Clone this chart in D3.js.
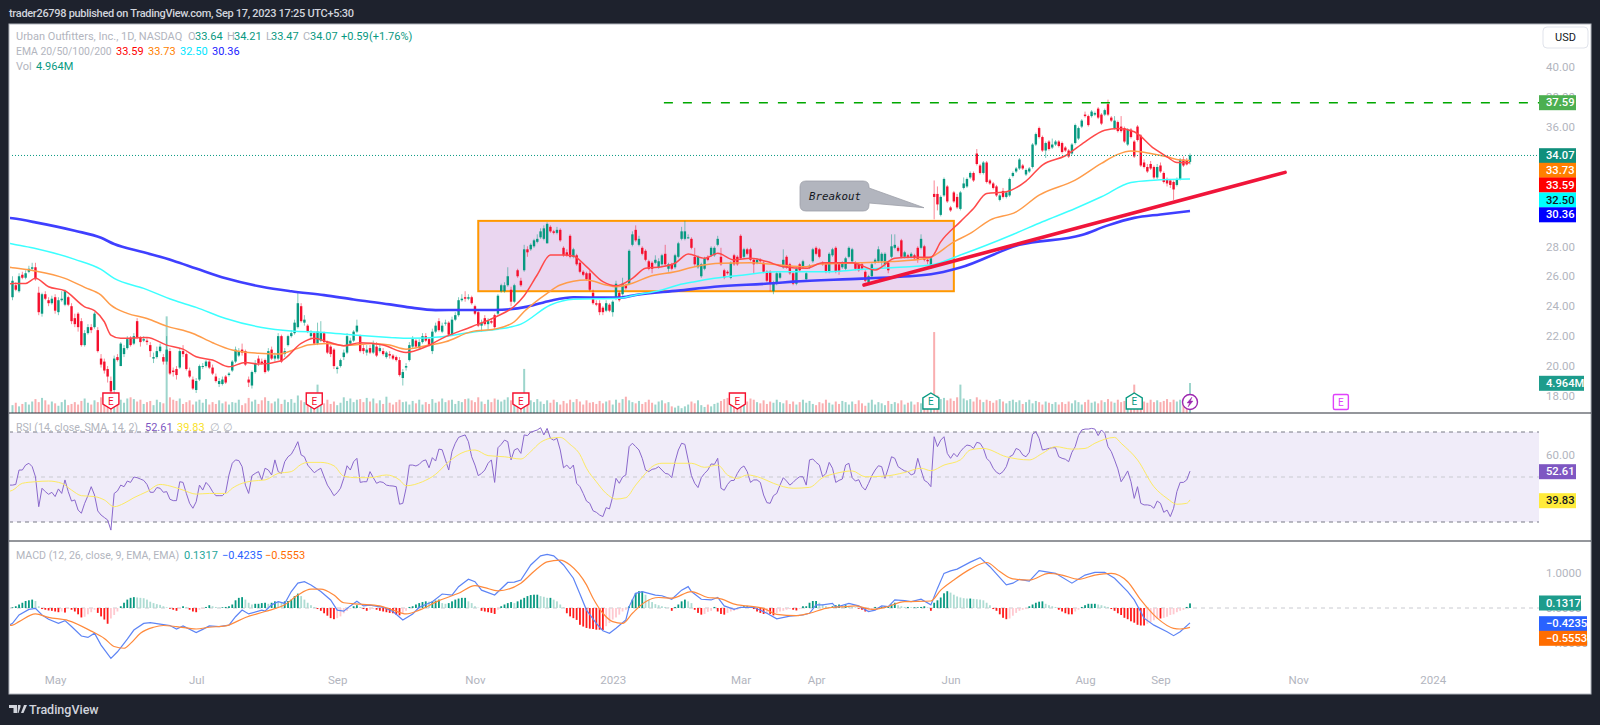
<!DOCTYPE html>
<html>
<head>
<meta charset="utf-8">
<script src="https://cdn.jsdelivr.net/npm/d3@7"></script>
<style>
  html, body { margin: 0; padding: 0; background: #1e222d; }
  svg { display: block; }
  text { font-family: Roboto, sans-serif; }
</style>
</head>
<body>
<div id="chart"></div>
<script>
// candles, one row = 10 daily bars
const opens = [
24.6,25.4,25.0,26.1,25.9,26.3,26.5,26.6,24.9,23.5,
24.8,24.4,24.2,24.6,23.6,24.4,24.1,24.6,24.0,23.2,
23.5,23.0,21.4,22.2,22.6,22.6,22.4,20.5,20.3,19.8,
19.0,18.4,20.6,20.0,20.8,21.2,21.9,21.5,23.0,21.9,
21.7,21.7,21.4,20.5,20.6,21.0,20.6,20.3,21.0,19.7,
19.8,19.9,21.0,20.8,19.7,19.1,18.4,19.1,20.0,20.0,
20.3,19.9,19.3,18.8,18.8,19.3,19.4,19.7,20.3,20.7,
21.1,21.0,19.1,18.7,19.6,20.5,20.3,20.4,19.7,21.1,
20.5,20.5,22.0,20.8,21.4,22.0,22.2,22.6,24.0,22.9,
22.7,22.0,22.2,21.5,21.7,22.2,21.6,21.3,21.1,19.8,
20.0,20.6,20.9,21.5,21.7,22.3,22.0,21.2,20.9,21.2,
20.9,21.3,21.0,21.0,20.6,20.8,20.7,20.6,20.4,19.2,
19.9,20.4,21.3,21.7,21.2,21.6,22.0,21.8,21.0,22.3,
23.0,22.3,22.9,22.9,22.1,23.1,23.4,24.4,24.6,24.5,
24.6,24.0,23.6,22.7,23.2,22.8,23.0,23.4,23.5,25.0,
25.0,25.4,25.1,24.3,26.4,25.7,26.4,27.8,27.8,28.0,
28.3,28.6,28.5,28.2,29.3,29.0,28.9,29.1,27.9,27.6,
28.7,27.3,27.4,26.9,26.3,26.2,26.2,24.9,24.2,24.2,
23.9,23.7,24.1,23.6,24.5,24.9,24.8,25.4,25.5,28.1,
29.1,28.1,27.9,27.7,27.0,26.9,26.9,26.6,26.8,27.5,
26.5,26.8,26.6,27.3,28.5,28.5,28.6,28.5,27.3,26.6,
26.0,26.5,27.3,27.4,27.4,28.1,27.3,26.4,26.3,25.9,
27.4,27.3,28.7,27.3,27.8,27.8,27.1,26.9,27.1,26.9,
26.3,26.3,25.0,25.5,25.9,26.6,27.3,26.8,26.2,25.5,
26.8,26.6,25.8,26.6,27.0,27.9,27.8,26.9,26.8,26.3,
27.4,27.9,26.8,26.6,26.5,27.3,27.0,26.9,26.8,26.8,
26.3,25.6,26.0,26.9,27.0,27.0,26.8,26.9,27.3,27.9,
27.9,28.4,27.3,27.4,27.3,27.4,27.9,27.9,28.0,27.1,
26.6,31.5,31.5,30.1,31.4,32.0,30.6,31.6,31.3,30.5,
31.9,32.0,32.6,32.9,34.2,33.4,32.9,33.6,32.4,32.2,
32.0,31.1,31.7,31.3,31.4,32.7,33.0,33.2,33.4,32.8,
33.0,33.3,34.8,35.9,35.3,34.4,35.0,34.6,34.8,35.0,
34.9,34.6,34.4,34.2,34.9,35.2,36.0,36.8,36.7,36.7,
36.8,37.2,36.8,36.8,37.5,36.6,35.9,36.3,36.0,35.9,
34.8,35.8,35.0,36.0,35.4,33.6,33.3,33.5,33.3,32.6,
33.4,32.9,32.5,32.4,32.3,32.1,32.5,33.8,33.7,33.64]

const closes = [
25.7,25.1,26.0,25.9,26.2,26.5,26.6,25.8,23.6,24.8,
24.5,24.2,24.5,23.7,24.4,24.5,25.0,24.1,23.0,22.8,
22.6,21.4,22.2,22.6,22.4,23.5,21.0,20.1,19.7,19.3,
18.3,20.5,20.4,21.5,21.2,21.8,21.4,22.0,21.9,21.6,
21.8,21.6,21.0,20.6,21.0,21.3,20.3,21.1,19.5,19.6,
19.4,21.0,20.8,19.8,19.3,18.5,19.0,20.0,20.0,20.3,
19.9,19.5,19.0,19.0,19.1,18.9,19.5,20.3,21.1,21.0,
20.9,20.1,18.9,19.6,20.2,20.2,20.2,19.6,21.0,20.5,
20.7,22.0,20.3,21.0,22.0,22.2,22.9,24.2,23.0,23.1,
22.3,22.2,21.5,22.3,22.2,21.6,20.9,20.8,20.0,19.9,
20.4,20.9,22.0,21.7,22.3,22.7,21.0,21.0,21.1,20.9,
21.5,20.7,21.2,20.8,20.9,20.7,20.5,20.4,19.4,19.6,
20.0,21.4,21.8,21.3,21.6,22.0,21.7,21.4,22.3,22.7,
22.4,22.7,22.9,22.1,23.1,23.4,24.4,24.5,24.5,24.6,
24.2,23.5,22.7,22.9,22.8,23.0,22.9,22.6,24.7,25.4,
25.4,26.0,24.3,25.4,26.0,25.4,27.8,27.6,28.1,28.4,
28.5,29.0,29.2,29.5,29.0,28.9,29.1,28.4,27.4,27.4,
27.3,27.8,26.8,26.3,26.1,25.8,25.1,24.2,24.1,23.6,
23.6,24.2,23.7,24.3,25.5,24.4,25.5,25.2,27.7,28.8,
28.4,28.5,27.5,27.1,26.5,26.5,27.1,27.0,27.4,26.8,
26.8,26.5,27.4,28.2,29.0,29.0,28.6,27.9,26.8,27.3,
26.8,27.2,27.1,27.9,27.9,28.5,26.8,25.9,26.2,26.9,
26.8,26.8,27.2,27.8,27.5,27.1,26.8,27.1,27.0,26.3,
25.7,25.5,25.6,26.2,26.2,27.1,26.6,26.2,25.5,26.5,
26.4,27.0,26.2,26.7,27.8,27.5,27.3,26.8,26.3,27.5,
27.8,26.3,26.3,26.9,27.2,27.9,27.8,26.5,26.4,26.5,
25.7,26.0,26.8,27.1,27.8,27.5,27.5,26.4,28.0,28.1,
27.7,27.3,27.6,27.3,27.5,27.2,27.1,28.5,27.1,27.0,
27.2,31.3,30.8,31.3,32.5,31.0,30.4,31.0,30.6,31.6,
32.2,32.5,32.9,32.4,33.5,32.9,33.6,32.3,32.2,31.9,
31.4,31.4,31.3,31.6,32.5,32.9,33.2,33.8,33.2,33.1,
33.2,34.8,35.5,35.3,34.4,34.9,34.5,34.8,35.0,34.7,
34.3,34.4,34.0,34.8,36.1,35.9,36.4,36.7,36.1,37.0,
36.9,36.6,36.2,37.1,36.8,36.4,36.4,35.7,35.7,35.0,
35.8,35.3,34.0,35.1,33.4,33.3,33.0,33.2,32.6,33.3,
33.0,32.3,32.2,32.1,31.8,32.5,33.8,33.4,33.47,34.07]

const highs = [
26.0,25.6,26.2,26.3,26.4,26.7,26.9,26.9,25.3,24.9,
25.0,24.6,24.7,24.8,24.6,25.0,25.1,24.7,24.2,23.5,
23.6,23.2,22.4,22.8,22.8,23.6,22.6,20.8,20.5,20.0,
19.3,20.7,20.8,21.6,21.4,22.0,22.0,22.2,23.2,22.0,
22.0,21.9,21.6,20.9,21.3,21.5,20.8,22.0,21.2,19.9,
20.0,21.2,21.4,20.9,19.9,19.3,19.2,20.1,20.2,20.4,
20.4,20.1,19.5,19.2,19.3,19.4,19.6,20.4,21.3,21.2,
21.5,21.1,19.3,19.7,20.4,20.7,20.5,20.5,21.2,21.3,
20.9,22.2,22.1,21.2,22.1,22.4,23.1,24.9,24.2,23.4,
22.8,22.4,22.3,22.9,23.0,22.3,21.7,21.4,21.2,20.0,
20.5,21.1,22.2,21.9,22.4,23.1,22.1,21.4,21.4,21.4,
21.7,21.6,21.4,21.2,21.0,21.0,20.8,20.7,20.6,19.8,
20.2,21.6,22.0,21.8,21.8,22.2,22.2,21.9,22.5,22.9,
23.2,22.9,23.1,23.0,23.3,23.6,24.6,24.8,25.0,24.8,
24.7,24.1,23.7,23.1,23.4,23.2,23.2,23.5,24.8,25.5,
25.6,26.6,25.3,25.5,26.5,25.9,28.1,28.0,28.2,28.5,
28.8,29.2,29.4,29.6,29.4,29.1,29.3,29.2,28.0,27.8,
28.8,27.9,27.5,27.0,26.4,26.3,26.4,25.1,24.4,24.4,
24.0,24.4,24.2,24.4,25.7,25.0,25.9,25.5,27.8,29.0,
29.4,28.7,28.0,27.8,27.1,27.0,27.4,27.2,27.5,28.1,
26.9,26.9,27.5,28.3,29.3,29.7,28.8,28.6,27.9,27.4,
26.9,27.3,27.4,28.0,28.0,28.7,27.9,26.5,26.4,27.0,
27.5,27.4,28.8,27.9,27.9,27.9,27.2,27.2,27.2,27.0,
26.4,26.4,25.7,26.3,26.3,27.8,27.4,26.9,26.3,26.6,
26.9,27.1,26.3,26.8,27.9,28.0,27.9,27.0,26.9,27.6,
27.9,28.0,26.9,27.0,27.3,28.0,27.9,27.0,26.9,26.9,
26.4,26.1,26.9,27.2,28.0,27.6,27.6,27.0,28.8,28.8,
28.0,28.5,27.7,27.5,27.6,27.5,28.0,28.8,28.1,27.2,
27.3,32.4,32.0,31.4,32.6,32.1,30.7,31.7,31.5,31.7,
32.6,32.6,33.0,33.0,34.5,33.5,33.7,33.7,32.5,32.3,
32.1,31.5,31.9,31.7,32.6,33.0,33.3,33.9,33.5,33.2,
33.3,34.9,35.6,36.0,35.4,35.0,35.1,35.2,35.1,35.1,
35.0,34.7,34.5,34.9,36.2,36.0,36.5,37.0,36.8,37.1,
37.0,37.3,36.9,37.2,37.8,36.7,36.7,36.4,36.7,36.0,
35.9,35.9,35.1,36.1,35.5,33.8,33.5,33.7,33.4,33.5,
33.6,33.0,32.6,32.5,32.4,32.6,33.9,34.0,33.9,34.21]

const lows = [
24.4,25.0,24.9,25.8,25.8,26.2,26.4,25.7,23.4,23.3,
24.4,24.0,24.1,23.5,23.4,24.3,24.0,24.0,22.8,22.6,
22.3,21.3,21.3,22.1,22.2,22.5,20.9,19.9,19.5,18.9,
18.2,18.2,20.3,20.0,20.6,21.1,21.3,21.4,21.8,21.3,
21.6,21.4,20.6,20.2,20.5,20.9,20.1,20.1,19.4,19.3,
19.1,19.8,20.6,19.7,19.2,18.4,18.2,19.0,19.8,19.9,
19.8,19.4,18.9,18.6,18.7,18.8,19.3,19.6,20.2,20.6,
20.7,20.0,18.6,18.5,19.5,20.0,20.1,19.5,19.6,20.4,
20.3,20.4,20.2,20.6,21.3,21.9,22.1,22.5,22.9,22.7,
22.2,21.8,21.4,21.4,21.6,21.5,20.8,20.6,19.8,19.5,
19.9,20.4,20.8,21.4,21.6,22.2,20.9,20.8,20.7,20.8,
20.8,20.6,20.9,20.7,20.5,20.5,20.4,20.3,19.3,18.7,
19.7,20.3,21.2,21.2,21.1,21.5,21.6,21.3,20.8,22.2,
22.3,22.2,22.7,22.0,22.0,23.0,23.3,24.3,24.3,24.4,
24.1,23.4,22.6,22.3,22.7,22.4,22.8,22.5,23.4,24.9,
24.9,25.3,24.0,24.2,25.9,25.3,26.3,27.3,27.7,27.9,
28.2,28.5,28.4,28.2,28.9,28.8,28.8,28.3,27.3,27.3,
27.2,27.2,26.7,26.2,26.0,25.7,25.0,24.1,24.0,23.4,
23.4,23.6,23.6,23.3,24.4,24.3,24.7,25.1,25.4,28.0,
28.3,28.0,27.4,27.0,26.4,26.2,26.8,26.5,26.7,26.7,
26.3,26.4,26.5,27.2,28.4,28.4,28.5,27.8,26.7,26.5,
25.9,26.4,27.0,27.3,27.3,28.0,26.7,25.8,26.1,25.8,
26.7,26.7,27.1,27.2,27.4,27.0,26.2,26.8,26.9,26.2,
25.6,25.0,24.8,25.4,25.8,26.5,26.5,26.1,25.4,25.4,
26.3,26.5,25.7,26.5,26.9,27.4,27.2,26.7,26.2,26.2,
27.3,26.2,26.1,26.5,26.4,27.2,26.9,26.4,26.3,26.4,
25.6,25.5,25.9,26.8,26.9,26.7,26.6,26.2,27.2,27.8,
27.6,27.2,27.2,27.2,27.2,27.1,26.9,27.8,27.0,26.8,
26.5,29.8,30.4,30.0,31.3,30.9,30.3,30.9,30.5,30.4,
31.8,31.9,32.5,32.3,33.4,32.8,32.8,32.2,32.1,31.8,
31.3,31.0,31.2,31.2,31.3,32.6,32.9,33.1,33.1,32.7,
32.9,33.2,34.7,35.2,34.3,33.9,34.4,34.5,34.7,34.6,
34.2,34.3,33.9,34.1,34.8,35.1,35.9,36.6,36.0,36.6,
36.7,36.5,36.1,36.7,36.7,36.3,35.8,35.6,35.6,34.9,
34.7,35.2,33.9,35.0,33.3,33.2,32.9,33.1,32.5,32.5,
32.9,32.2,32.0,31.9,31.1,32.0,32.4,33.3,33.4,33.47]

// volume in millions
const volumes = [
1.3,1.7,1.1,1.5,1.8,1.4,1.9,2.3,1.8,2.5,
2.1,1.4,1.9,1.6,1.2,1.8,2.2,1.3,1.5,1.8,
1.4,2.0,2.4,1.7,1.4,2.1,1.8,2.6,1.9,2.7,
2.1,2.7,2.8,2.2,1.7,2.4,2.6,2.3,1.9,2.2,
1.5,1.8,2.0,1.3,2.2,1.8,1.6,16.0,2.6,2.2,
2.0,2.4,1.5,1.8,2.1,1.4,1.9,2.2,1.7,2.3,
1.4,1.8,1.5,2.1,1.6,1.9,1.4,1.8,1.7,2.2,
1.3,1.6,2.5,1.9,2.2,1.5,2.1,2.6,2.0,1.6,
1.9,2.4,1.5,2.2,1.8,2.3,1.7,2.9,2.1,1.8,
2.2,1.4,1.8,4.7,2.0,1.6,2.2,1.5,1.9,1.3,
1.7,2.6,2.0,2.4,1.8,2.2,2.3,1.8,2.5,1.9,
2.4,1.6,2.1,1.5,2.7,1.7,1.4,1.8,2.2,1.8,
1.9,1.4,2.0,1.6,2.2,1.4,1.8,1.5,2.3,1.7,
1.9,2.4,1.8,2.1,2.2,1.5,2.0,1.8,2.3,2.4,
2.1,1.8,2.6,1.9,1.5,2.2,1.8,2.4,2.2,1.9,
2.2,2.6,2.1,2.4,1.9,2.2,7.3,2.6,2.1,1.8,
2.3,1.9,1.5,2.1,1.7,2.2,1.8,1.4,2.0,1.6,
2.2,1.8,2.3,1.9,1.4,2.1,1.7,1.8,1.5,2.0,
1.6,1.9,2.1,1.4,2.2,1.7,2.3,2.7,2.1,1.8,
1.6,2.0,1.5,1.8,2.2,1.7,1.4,1.9,2.1,1.6,
1.8,1.1,0.9,1.2,0.8,1.1,1.4,1.9,1.6,2.1,
1.3,1.0,1.4,1.1,1.5,1.7,2.0,2.3,2.5,2.1,
1.8,1.5,2.1,1.7,1.9,2.4,2.2,1.8,1.6,2.1,
1.5,1.9,1.7,2.2,1.8,1.6,2.1,1.5,1.9,1.4,
1.8,2.2,1.7,2.0,1.5,1.3,1.8,1.6,2.2,1.7,
1.4,1.9,1.5,2.0,1.8,1.4,1.9,1.5,2.1,1.6,
1.2,1.7,2.2,1.4,1.8,1.6,1.3,2.0,1.5,1.8,
1.6,2.1,1.4,1.7,1.9,1.4,1.8,1.6,2.1,2.6,
2.2,13.4,2.9,2.3,2.5,2.1,2.4,2.0,2.6,4.7,
2.4,2.1,2.3,1.9,2.6,2.2,1.8,2.2,2.0,1.7,
2.1,2.3,1.9,1.6,2.0,2.2,1.8,2.1,1.5,1.8,
2.2,1.6,2.0,1.8,1.4,1.9,1.7,1.5,1.8,1.4,
1.8,1.5,1.9,1.6,2.1,1.8,1.4,1.8,2.2,1.7,
1.9,1.6,2.1,1.8,2.3,1.9,1.7,2.2,1.8,2.0,
1.6,2.2,4.7,2.1,2.4,1.9,1.7,2.2,1.8,2.1,
1.8,2.0,2.3,1.8,2.2,1.9,2.2,2.0,1.8,4.964]

const rsiValues = [
46.4,46.7,53.1,53.1,55.3,56.1,54.6,50.1,36.8,45,
43.5,42.3,43.2,41.3,44.7,42.7,48.7,43.5,39.3,39.8,
35.3,33.9,38.3,41.7,45.7,42,34.9,33.1,32,30.9,
26.4,42.7,43.8,46.4,45.7,48.2,47.6,50,49.7,49.1,
48.5,46.7,43.2,43.2,45.3,45,43.2,43.5,40.1,39.5,
39.5,47.9,47.6,42.7,38.3,36.1,39,46.4,44.2,47.6,
46,43.5,41.7,41.7,41.7,43.2,50.9,56.1,57.6,57.3,
54.6,46.4,42.7,50.6,51.6,52.4,48.7,53.9,53.1,50.9,
57.6,52.4,51.6,56.8,59,60.1,62.7,65.7,59.8,59,
55.3,53.6,51.9,53,53.9,50.1,46.4,44.2,41.7,43,
45,49.4,55,53.1,56.8,58.3,47.6,47.9,47.9,52.4,
49.7,47.2,47.9,47.6,46.4,46.1,46,45.7,37.9,38.3,
45,55.3,55.3,54.9,55.6,57.1,57.6,54.1,58.6,57.1,
62.4,62.1,57.6,53.1,61.3,65,67.6,68.2,68.7,65.7,
59,55.3,50.6,51.6,53.1,56.1,57.6,47.6,63,64.5,
66.4,65.7,57.6,62,62.7,60.5,68.7,68.4,69.9,70.4,
70.9,71.9,68.7,71.6,67.2,66.4,67.2,62,54.1,55.3,
53.6,55.3,47.2,45.7,42.7,39.3,38.3,35,34.3,33.1,
32.4,36.4,35.8,41.3,49.4,47.2,50,50.9,63.5,65,
63.5,62,58.3,53.1,52.4,53.4,53.7,54.6,53.1,51.6,
51.3,49.7,56.8,62,65,64.5,57.6,50.6,47.2,45.3,
49.7,51.6,53.1,55.8,55.6,58.3,45,44.1,46.7,48.4,
48.5,51.6,53.9,54.9,52.4,47.6,48.7,48.7,47.6,42,
38.6,38.3,41.7,42.7,46.4,49.7,48.2,46.4,47.6,49.1,
50.1,50.1,46.4,57.6,58,56.5,55.3,50.1,51.6,56.5,
53.9,47.6,48.5,49.1,55.3,56.1,49.7,48.2,48.8,45.7,
44.2,47.2,50.6,53.1,55,54.6,49.4,53.9,59,58.3,
54.6,53.6,52.7,52.4,50.9,51.6,58.3,53.1,48.5,47.6,
45.7,67.9,63.5,66.4,67.9,60.5,58.3,60.5,59,61.3,
63,64.2,63.9,62.7,65.4,65,62.7,58.3,56.8,53.9,
52.1,51.3,52.4,54.6,59,59.8,62.7,62,59.8,59,
61,69,70.1,67.2,62,62.3,62.7,63,63,59,
58.3,57.9,56.8,61,63.5,68.4,70.9,71.3,71.3,71.6,
71.3,68.4,70.9,69.4,63.5,61.3,57.6,53.6,47.9,50.1,
52.7,47.9,40.5,45.7,38.3,37.6,37.6,37.3,36.1,39.3,
38.3,34.3,35.3,32.4,36.1,43.5,47.6,47.6,48.7,52.61]

const rsiMaBars = [-1,0,3,7,11,15,18,21,25,28,31,34,37,41,45,48,52,56,60,65,67,70,73,77,81,85,88,90,94,98,101,105,109,114,118,120,125,129,133,138,141,145,150,155,158,161,164,167,170,173,175,178,181,184,187,190,193,195,198,201,207,211,215,218,221,224,228,232,238,243,247,251,256,260,266,272,277,280,284,289,292,296,303,310,314,318,323,327,330,336,338,343,348,352,355,358,359]
const rsiMaValues = [43.6,44.1,47.2,47.9,48.2,47.2,44.2,41.7,41.3,39.8,36.8,38.3,40.8,43.5,46.7,46,44.2,42.4,42.7,42.7,45,47.2,48.2,48.7,51.6,52.4,55.6,56.5,56.5,55,50.4,49.7,49.7,50.9,48.7,46.1,47.9,51.2,56.8,61.3,62,59.5,59,58,61.3,65.4,67.2,67.6,64.5,60,53.9,47.9,42.7,40.2,40.8,46.4,51.6,54.6,56.1,56.1,56.1,54.3,55.3,50.9,49.4,50.9,49.7,47.2,45,45.4,49.7,51.6,52.7,50.1,50.4,52,53.9,52.8,55.3,57.6,62,62.7,59,57.6,60.5,63.5,62.4,62.7,65,67.6,65,57.6,45.7,40.5,37.9,38.3,39.83]

const ema20Bars = [-1,0,4,7,11,16,22,25,28,30,33,41,47,52,56,61,66,71,75,82,88,92,96,101,106,113,120,126,131,140,147,153,156,160,164,168,171,175,180,184,189,193,198,202,206,211,215,220,225,230,235,242,247,256,263,269,274,280,283,289,293,297,303,309,314,321,327,333,337,342,348,352,355,359]
const ema20Values = [25.5,25.52,25.52,25.86,25.3,25.03,23.96,23.7,22.96,22.07,21.85,21.91,21.4,21.13,20.62,20.4,19.95,20.24,20.13,20.36,21.51,21.85,21.62,21.36,21.56,21.4,20.91,21.29,21.85,22.63,23.25,24.0,24.7,26.1,27.42,27.42,27.35,26.64,25.64,25.37,25.86,26.53,26.64,26.87,27.49,27.2,27.53,27.09,27.2,26.98,26.64,26.53,26.9,26.9,26.42,27.2,27.27,27.27,28.3,29.65,30.53,31.53,31.64,32.36,33.43,34.05,34.98,35.76,35.87,35.65,34.54,33.98,33.6,33.59]

const ema50Bars = [-1,0,7,16,22,27,30,35,41,47,55,61,67,75,81,87,90,96,101,110,115,120,126,132,140,147,153,156,163,167,175,181,184,189,194,202,208,216,225,234,242,246,258,268,279,287,292,298,306,313,324,332,337,341,347,352,356,359]
const ema50Values = [26.6,26.57,26.35,25.86,25.26,24.74,24.07,23.52,23.18,22.67,22.18,21.56,21.07,20.85,20.8,21.18,21.4,21.51,21.36,21.51,21.4,21.13,21.36,21.62,22.3,22.47,22.96,23.64,24.86,25.42,25.75,25.42,25.3,25.53,25.97,26.3,26.64,26.87,26.9,26.75,26.64,26.82,26.9,26.98,27.2,28.3,28.86,29.75,30.3,31.42,32.42,33.54,34.14,34.36,34.2,33.98,33.76,33.73]

const ema100Bars = [-1,0,7,19,27,31,40,49,56,65,76,85,95,104,115,121,131,141,148,155,164,171,185,190,198,203,208,214,223,233,248,259,269,280,289,305,314,324,332,341,348,359]
const ema100Values = [28.2,28.15,27.86,27.13,26.46,25.86,25.19,24.41,23.92,23.18,22.58,22.34,22.25,22.07,21.91,21.85,21.96,22.3,22.46,22.8,24.08,24.46,24.53,24.75,25.08,25.42,25.64,25.86,26.09,26.3,26.3,26.46,26.58,26.75,27.42,28.79,29.64,30.53,31.31,32.27,32.42,32.5]

const ema200Bars = [-1,0,7,19,27,31,40,49,56,65,76,85,95,104,115,121,129,137,147,157,164,171,185,190,203,214,232,238,259,280,289,307,326,334,342,350,359]
const ema200Values = [29.9,29.87,29.6,29.04,28.57,28.15,27.6,27.04,26.52,25.86,25.3,25.0,24.74,24.45,24.12,23.92,23.74,23.75,23.75,23.97,24.37,24.6,24.57,24.75,25.04,25.3,25.53,25.64,25.84,26.13,26.58,28.1,28.75,29.4,29.9,30.13,30.36]

const macdBars = [-1,0,2,5,7,9,11,14,16,18,21,23,25,27,30,32,35,37,40,42,45,48,50,52,56,58,60,63,66,68,70,72,76,77,79,81,83,85,87,89,91,94,97,99,101,103,105,107,109,113,116,119,122,124,128,131,134,136,139,141,143,147,151,153,155,158,161,163,165,168,171,173,175,178,180,182,184,187,188,190,192,196,198,201,204,206,207,210,213,215,217,220,222,226,230,233,237,241,243,245,247,250,251,255,258,261,263,265,267,269,272,274,277,280,282,284,286,288,292,295,298,303,305,307,310,313,318,323,327,330,333,336,340,342,345,348,352,354,356,359]
const macdValues = [-0.49,-0.44,-0.2,-0.04,-0.01,-0.2,-0.32,-0.44,-0.36,-0.53,-0.8,-0.84,-0.72,-1.06,-1.44,-1.25,-0.89,-0.63,-0.44,-0.42,-0.46,-0.5,-0.6,-0.51,-0.7,-0.61,-0.51,-0.53,-0.49,-0.25,-0.06,-0.17,-0.06,-0.09,0.09,0.18,0.13,0.47,0.71,0.75,0.66,0.47,0.23,-0.06,-0.09,0.06,0.19,0.06,0.08,0.02,-0.1,-0.34,-0.17,0.02,0.18,0.4,0.37,0.61,0.82,0.75,0.51,0.37,0.73,0.74,0.8,1.23,1.49,1.53,1.49,1.23,0.85,0.4,-0.06,-0.44,-0.65,-0.72,-0.58,-0.34,0.04,0.42,0.47,0.37,0.35,0.25,0.51,0.61,0.47,0.25,0.23,0.3,0.06,-0.04,0.02,0.02,-0.15,-0.31,-0.23,-0.2,-0.15,0.09,0.09,0.13,0.02,0.13,0.06,-0.1,-0.06,0.06,0.04,0.23,0.21,0.18,0.25,0.09,0.56,0.99,1.06,1.11,1.31,1.44,1.18,0.66,0.71,0.82,0.77,1.07,0.99,0.71,0.94,1.02,1.02,0.85,0.47,0.23,-0.29,-0.49,-0.68,-0.79,-0.68,-0.4235]

const signalBars = [-1,0,2,7,11,17,24,28,31,34,36,39,43,46,50,56,60,65,71,77,83,87,91,94,98,101,106,112,116,120,124,130,136,141,144,148,155,160,163,167,170,175,177,180,183,186,189,193,197,201,207,212,215,221,224,229,233,239,243,248,254,257,262,266,272,280,283,287,292,297,301,305,310,316,320,325,330,335,340,344,349,354,356,359]
const signalValues = [-0.5,-0.49,-0.39,-0.17,-0.27,-0.36,-0.66,-0.87,-1.1,-1.15,-1.01,-0.72,-0.55,-0.5,-0.53,-0.6,-0.55,-0.51,-0.27,-0.1,0.09,0.37,0.54,0.54,0.37,0.15,0.11,0.06,-0.06,-0.17,-0.06,0.21,0.42,0.64,0.58,0.49,0.71,1.13,1.32,1.37,1.23,0.66,0.28,-0.15,-0.39,-0.44,-0.15,0.18,0.3,0.28,0.47,0.3,0.28,0.09,0.06,-0.01,-0.18,-0.22,-0.15,-0.01,0.04,0.06,-0.04,0.02,0.18,0.2,0.51,0.8,1.11,1.3,1.04,0.83,0.8,0.99,0.94,0.82,0.94,0.99,0.75,0.23,-0.29,-0.58,-0.6,-0.5553]

const histValues = [
.02,.05,.10,.15,.20,.22,.24,.20,.05,-.03,
-.05,-.07,-.08,-.10,-.12,-.10,-.13,-.03,-.05,-.10,
-.18,-.27,-.25,-.18,-.12,-.05,-.14,-.24,-.33,-.45,
-.30,-.20,-.10,.05,.15,.24,.29,.31,.30,.29,
.28,.24,.18,.14,.11,.09,.05,.02,-.02,-.05,
-.08,-.03,.05,.03,-.05,-.10,-.12,-.05,-.02,.03,
.08,.05,.03,.01,.02,.03,.05,.10,.22,.29,
.31,.24,.15,.10,.12,.12,.14,.15,.12,.15,
.19,.17,.15,.19,.20,.24,.34,.41,.34,.24,
.15,.08,.03,-.03,-.08,-.15,-.22,-.29,-.32,-.29,
-.24,-.15,-.08,-.02,.05,.08,.03,-.03,-.08,-.05,
-.03,-.05,-.08,-.10,-.12,-.14,-.15,-.19,-.21,-.14,
-.08,.03,.05,.10,.14,.17,.19,.18,.19,.21,
.24,.14,.12,.14,.19,.24,.27,.29,.29,.19,
.14,.05,.01,-.08,-.10,-.12,-.14,-.17,-.05,.05,
.10,.14,.17,.14,.19,.24,.29,.34,.37,.38,
.38,.34,.32,.29,.29,.24,.19,.10,.02,-.15,
-.24,-.29,-.34,-.48,-.53,-.57,-.59,-.60,-.62,-.62,
-.63,-.52,-.43,-.33,-.27,-.19,-.10,-.05,.05,.24,
.43,.48,.48,.38,.24,.17,.11,.08,.05,.03,
.01,-.08,.03,.10,.19,.24,.19,.14,-.05,-.14,
-.19,-.17,-.11,-.08,.03,-.10,-.17,-.19,-.14,-.10,
-.08,-.05,.03,.05,.05,.03,-.03,-.10,-.14,-.17,
-.15,-.17,-.21,-.14,-.10,-.08,-.05,-.03,-.05,-.07,
-.03,.05,.05,.15,.20,.20,.15,.10,.05,.03,
.05,.08,.10,.05,.08,.05,.03,.02,-.02,-.05,
-.10,-.08,-.03,.03,.02,.03,.05,.05,.10,.15,
.08,.05,.03,.03,.02,.02,.02,.03,.05,.02,
-.08,.15,.22,.30,.42,.48,.44,.38,.33,.30,
.28,.27,.27,.26,.25,.24,.22,.15,.08,-.03,
-.08,-.18,-.28,-.32,-.30,-.22,-.14,-.08,-.05,-.03,
.05,.10,.15,.18,.19,.12,.08,.05,.03,-.05,
-.10,-.15,-.18,-.18,-.10,-.05,.03,.08,.12,.12,
.12,.10,.08,.05,.03,-.03,-.08,-.15,-.20,-.28,
-.32,-.38,-.42,-.48,-.50,-.50,-.45,-.40,-.35,-.30,
-.30,-.28,-.25,-.20,-.18,-.12,-.08,-.05,.03,.1317]

const priceTicks = [18,20,22,24,26,28,36,38,40]
const rsiTicks = [60]
const macdTicks = [-1,0,1]
const dateBars = [13,56,99,141,183,222,245,286,327,350,392,433]
const dateLabels = ["May","Jul","Sep","Nov","2023","Mar","Apr","Jun","Aug","Sep","Nov","2024"]

const earningsRed = [30,92,155,221]
const earningsGreen = [280,342]
const dividendBar = 359
const nextEarningsBar = 405

const boxBars = [142,287]
const boxPrices = [25,29.7]
const trendBars = [259.6,388]
const trendPrices = [25.41,32.94]
const resistance = 37.59
const resistanceStart = 198.6
const lastClose = 34.07

const w = 1600, h = 725
const paneL = 9, paneR = 1591, axisX = 1539
const up = "#089981", down = "#f50f2d"
const font = "Roboto, sans-serif"

const x = d3.scaleLinear().domain([0,359]).range([12.5,1190])
const yPrice = d3.scaleLinear().domain([18,40]).range([396,66.7])
const yVol = d3.scaleLinear().domain([0,1]).range([413,406.96])
const yRsi = d3.scaleLinear().domain([30,70]).range([522,432])
const yMacd = d3.scaleLinear().domain([0,1]).range([608,573])

const svg = d3.select("#chart").append("svg").attr("width", w).attr("height", h)

svg.append("rect").attr("width", w).attr("height", h).attr("fill", "#1e222d")
svg.append("rect").attr("x", paneL).attr("y", 24).attr("width", paneR-paneL).attr("height", 670)
   .attr("fill", "#fff").attr("stroke", "#b2b5be")
svg.append("defs").append("clipPath").attr("id", "plot").append("rect")
   .attr("x", paneL+1).attr("y", 24).attr("width", axisX-paneL).attr("height", 670)

const plot = svg.append("g").attr("clip-path", "url(#plot)")

function label(txt, px, py, color, size, weight, anchor) {
  return svg.append("text").attr("x", px).attr("y", py).text(txt)
    .attr("fill", color).attr("font-size", size || 11)
    .attr("font-weight", weight || 400).attr("text-anchor", anchor || "start")
    .attr("dominant-baseline", "central")
}

function sparseLine(bars, vals, yScale, color, width, curve) {
  const pts = bars.map((b,i) => [b, vals[i]])
  plot.append("path")
    .attr("d", d3.line().x(d => x(d[0])).y(d => yScale(d[1])).curve(curve || d3.curveLinear)(pts))
    .attr("fill", "none").attr("stroke", color).attr("stroke-width", width)
}

// volume
plot.selectAll("rect.vol").data(volumes).enter().append("rect")
  .attr("class", "vol")
  .attr("x", (d,i) => x(i)-1)
  .attr("width", 2)
  .attr("y", d => yVol(d))
  .attr("height", d => yVol(0)-yVol(d))
  .attr("fill", (d,i) => closes[i] >= opens[i] ? "#9dd5cc" : "#f9aeb0")

// consolidation box, behind the candles
plot.append("rect")
  .attr("x", x(boxBars[0])).attr("width", x(boxBars[1])-x(boxBars[0]))
  .attr("y", yPrice(boxPrices[1])).attr("height", yPrice(boxPrices[0])-yPrice(boxPrices[1]))
  .attr("fill", "#ead6f0").attr("stroke", "#ff9800").attr("stroke-width", 2)

// candles
const idx = d3.range(closes.length)
plot.selectAll("line.wick").data(idx).enter().append("line")
  .attr("class", "wick")
  .attr("x1", i => x(i)).attr("x2", i => x(i))
  .attr("y1", i => yPrice(highs[i])).attr("y2", i => yPrice(lows[i]))
  .attr("stroke", i => closes[i] >= opens[i] ? up : down)
  .attr("stroke-opacity", 0.5).attr("stroke-width", 1)
plot.selectAll("rect.body").data(idx).enter().append("rect")
  .attr("class", "body")
  .attr("x", i => x(i)-1.2).attr("width", 2.4)
  .attr("y", i => yPrice(Math.max(opens[i], closes[i])))
  .attr("height", i => Math.max(1, Math.abs(yPrice(opens[i])-yPrice(closes[i]))))
  .attr("fill", i => closes[i] >= opens[i] ? up : down)

// moving averages
sparseLine(ema200Bars, ema200Values, yPrice, "#3f3fff", 2.6, d3.curveMonotoneX)
sparseLine(ema100Bars, ema100Values, yPrice, "#3cffff", 1.5, d3.curveMonotoneX)
sparseLine(ema50Bars, ema50Values, yPrice, "#ff9c4a", 1.5, d3.curveMonotoneX)
sparseLine(ema20Bars, ema20Values, yPrice, "#ff4a4a", 1.5, d3.curveMonotoneX)

// drawn lines
plot.append("line")
  .attr("x1", x(trendBars[0])).attr("y1", yPrice(trendPrices[0]))
  .attr("x2", x(trendBars[1])).attr("y2", yPrice(trendPrices[1]))
  .attr("stroke", "#f0153a").attr("stroke-width", 3.6).attr("stroke-linecap", "round")
plot.append("line")
  .attr("x1", x(resistanceStart)).attr("x2", axisX)
  .attr("y1", yPrice(resistance)).attr("y2", yPrice(resistance))
  .attr("stroke", "#00a800").attr("stroke-width", 1.4).attr("stroke-dasharray", "9 10")
plot.append("line")
  .attr("x1", paneL).attr("x2", axisX)
  .attr("y1", yPrice(lastClose)).attr("y2", yPrice(lastClose))
  .attr("stroke", up).attr("stroke-dasharray", "1 2")

// breakout callout
svg.append("path")
  .attr("d", "M806 181H863Q869 181 869 187V188L924 207.7L869 203V205Q869 211 863 211H806Q800 211 800 205V187Q800 181 806 181Z")
  .attr("fill", "#b2b5be").attr("stroke", "#9da0a8").attr("stroke-width", 0.8)
label("Breakout", 809, 196, "#131722", 10.8)
  .attr("font-style", "italic").style("font-family", "'DejaVu Sans Mono'")

// earnings flags
function flag(bar, color, pointsUp) {
  const cx = x(bar), cy = 401
  const d = pointsUp
    ? `M${cx},${cy-8}L${cx+8},${cy-3}V${cy+8}H${cx-8}V${cy-3}Z`
    : `M${cx-8},${cy-8}H${cx+8}V${cy+3}L${cx},${cy+8}L${cx-8},${cy+3}Z`
  svg.append("path").attr("d", d).attr("fill", "#fff").attr("stroke", color).attr("stroke-width", 1.4)
  label("E", cx, cy, color, 10, 400, "middle")
}
earningsRed.forEach(b => flag(b, "#f50f2d", false))
earningsGreen.forEach(b => flag(b, up, true))
const dx = x(dividendBar)
svg.append("circle").attr("cx", dx).attr("cy", 402).attr("r", 7.5)
   .attr("fill", "#fff").attr("stroke", "#9c27b0").attr("stroke-width", 1.4)
svg.append("path")
   .attr("d", `M${dx+2},397L${dx-3},403H${dx-0.5}L${dx-2},407L${dx+3},401H${dx+0.5}Z`)
   .attr("fill", "#9c27b0").attr("stroke", "#9c27b0").attr("stroke-width", 0.4)
svg.append("rect").attr("x", x(nextEarningsBar)-7.5).attr("y", 394.5).attr("width", 15).attr("height", 15).attr("rx", 1.5)
   .attr("fill", "#fff").attr("stroke", "#e040fb").attr("stroke-width", 1.4)
label("E", x(nextEarningsBar), 402, "#e040fb", 10, 400, "middle")

// panes separators
svg.append("line").attr("x1", paneL).attr("x2", paneR).attr("y1", 413).attr("y2", 413).attr("stroke", "#2a2e39").attr("stroke-width", 1.2)
svg.append("line").attr("x1", paneL).attr("x2", paneR).attr("y1", 541).attr("y2", 541).attr("stroke", "#2a2e39").attr("stroke-width", 1.2)

// rsi pane
plot.append("rect").attr("x", paneL).attr("width", axisX-paneL)
  .attr("y", yRsi(70)).attr("height", yRsi(30)-yRsi(70)).attr("fill", "#f0ecf9")
;[[70,"#787b86"],[50,"#c9cad0"],[30,"#787b86"]].forEach(r => {
  plot.append("line").attr("x1", paneL).attr("x2", axisX)
    .attr("y1", yRsi(r[0])).attr("y2", yRsi(r[0]))
    .attr("stroke", r[1]).attr("stroke-dasharray", "4 4")
})
sparseLine([-1].concat(idx), [46.4].concat(rsiValues), yRsi, "#8a68cc", 1)
sparseLine(rsiMaBars, rsiMaValues, yRsi, "#fdea62", 1, d3.curveMonotoneX)

// macd pane
plot.append("line").attr("x1", paneL).attr("x2", axisX)
  .attr("y1", yMacd(0)).attr("y2", yMacd(0))
  .attr("stroke", "#c9cad0").attr("stroke-dasharray", "4 4")
plot.selectAll("rect.hist").data(histValues).enter().append("rect")
  .attr("class", "hist")
  .attr("x", (d,i) => x(i)-0.9).attr("width", 1.8)
  .attr("y", d => yMacd(Math.max(d,0)))
  .attr("height", d => Math.abs(yMacd(d)-yMacd(0)))
  .attr("fill", (d,i) => {
    const prev = i ? histValues[i-1] : 0
    if (d >= 0) return d >= prev ? up : "#aedcd3"
    return d <= prev ? "#ff1a1a" : "#ffc9d0"
  })
sparseLine(macdBars, macdValues, yMacd, "#5d84f5", 1.2)
sparseLine(signalBars, signalValues, yMacd, "#ff8a3c", 1.2, d3.curveMonotoneX)

// axes
function rightAxis(scale, ticks, fmt) {
  const g = svg.append("g").attr("transform", `translate(${axisX},0)`)
    .call(d3.axisRight(scale).tickValues(ticks).tickSize(0).tickPadding(7).tickFormat(fmt))
  g.select(".domain").remove()
  g.selectAll("text").attr("fill", "#b2b5be").attr("font-size", 11.5).attr("font-family", font)
}
rightAxis(yPrice, priceTicks, d3.format(".2f"))
rightAxis(yRsi, rsiTicks, d3.format(".2f"))
rightAxis(yMacd, macdTicks, d3.format(".4f"))

const dateAxis = svg.append("g").attr("transform", "translate(0,674)")
  .call(d3.axisBottom(x).tickValues(dateBars).tickSize(0).tickPadding(2).tickFormat((d,i) => dateLabels[i]))
dateAxis.select(".domain").remove()
dateAxis.selectAll("text").attr("fill", "#b2b5be").attr("font-size", 11.5).attr("font-family", font)

// value tags on the axis
function tag(txt, cy, wide, fill, color) {
  svg.append("rect").attr("x", axisX).attr("y", cy-7.5).attr("width", wide).attr("height", 15)
    .attr("fill", fill)
  label(txt, axisX+7, cy, color || "#fff", 11.2, 500)
}
tag("37.59", 102.7, 37, "#4caf50")
tag("34.07", 155.7, 37, "#0f8f7c")
tag("33.73", 170.3, 37, "#ff7f00")
tag("33.59", 185, 37, "#ff0000")
tag("32.50", 200, 37, "#00ffff", "#131722")
tag("30.36", 214.8, 37, "#0000ff")
tag("4.964M", 383.3, 45, "#1d9c8c")
tag("52.61", 471.7, 37, "#7e57c2")
tag("39.83", 500.7, 37, "#ffeb3b", "#131722")
tag("0.1317", 603, 42, "#1d9c8c")
tag("\u22120.4235", 623.7, 48, "#2962ff")
tag("\u22120.5553", 638.3, 48, "#ff6d00")

// currency button
svg.append("rect").attr("x", 1543).attr("y", 27).attr("width", 45).attr("height", 21).attr("rx", 4)
  .attr("fill", "#fff").attr("stroke", "#e0e3eb")
label("USD", 1565.5, 37.5, "#131722", 11, 400, "middle")

// legends
label("trader26798 published on TradingView.com, Sep 17, 2023 17:25 UTC+5:30", 9, 13, "#d1d4dc", 11, 500)
  .attr("textLength", 345)
const gray = "#b2b5be"
label("Urban Outfitters, Inc., 1D, NASDAQ", 16, 36, gray, 11)
;[["O",188,gray],["33.64",195,up],["H",227,gray],["34.21",234,up],["L",266,gray],["33.47",271,up],
  ["C",303,gray],["34.07",310,up],["+0.59",341,up],["(+1.76%)",369,up]].forEach(r => label(r[0], r[1], 36, r[2], 11))
label("EMA 20/50/100/200", 16, 51, gray, 10.4)
;[["33.59",116,"#ff0000"],["33.73",148,"#ff7f00"],["32.50",180,"#00e5ff"],["30.36",212,"#2222ff"]].forEach(r => label(r[0], r[1], 51, r[2], 11))
label("Vol", 16, 66, gray, 11)
label("4.964M", 36, 66, up, 11)
label("RSI (14, close, SMA, 14, 2)", 16, 427, gray, 10.6)
;[["52.61",145,"#7e57c2"],["39.83",177,"#f9e22c"],["\u2205",210,gray],["\u2205",223,gray]].forEach(r => label(r[0], r[1], 427, r[2], 11))
label("MACD (12, 26, close, 9, EMA, EMA)", 16, 555, gray, 10.6)
;[["0.1317",184,"#26a69a"],["\u22120.4235",222,"#2962ff"],["\u22120.5553",265,"#ff6d00"]].forEach(r => label(r[0], r[1], 555, r[2], 11))

// logo
svg.append("path").attr("d", "M9 705H17V713H13.5V708H9ZM18 705H20.5V707L18.5 713H21L24 705H27L23.5 713H17.5Z").attr("fill", "#d1d4dc")
label("TradingView", 29, 709.5, "#d1d4dc", 12.5, 500)
</script>
</body>
</html>
